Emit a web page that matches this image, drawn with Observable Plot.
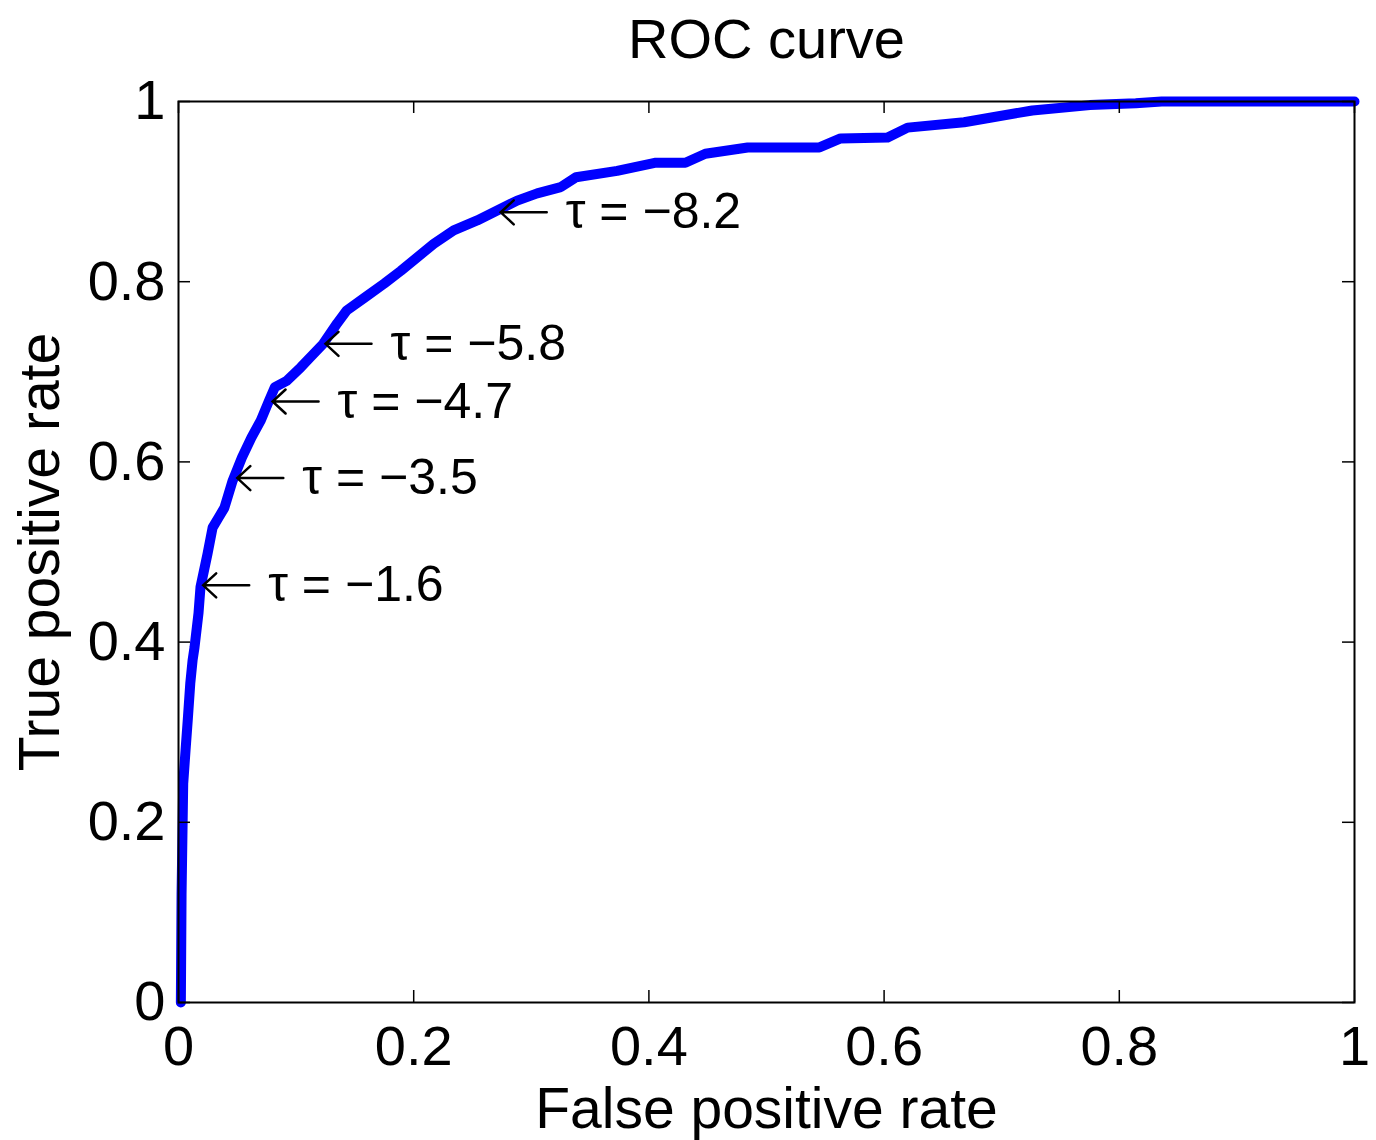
<!DOCTYPE html>
<html><head><meta charset="utf-8">
<script src="https://cdn.jsdelivr.net/npm/d3@7"></script>
<script src="https://cdn.jsdelivr.net/npm/@observablehq/plot@0.6"></script>
<style>body{margin:0;background:#fff}</style>
</head><body><div id="chart"></div>
<script>
const fpr = [0.002, 0.0026, 0.004, 0.006, 0.008, 0.010, 0.012, 0.0136, 0.017, 0.0187, 0.0247, 0.029, 0.034, 0.039, 0.046, 0.054, 0.062, 0.070, 0.077, 0.082, 0.092, 0.104, 0.112, 0.123, 0.135, 0.143, 0.158, 0.175, 0.189, 0.203, 0.217, 0.234, 0.254, 0.271, 0.288, 0.305, 0.325, 0.338, 0.373, 0.405, 0.431, 0.448, 0.484, 0.545, 0.563, 0.603, 0.620, 0.668, 0.690, 0.726, 0.775, 0.814, 0.836, 1];
const tpr = [0, 0.12, 0.243, 0.28, 0.316, 0.354, 0.38, 0.394, 0.432, 0.461, 0.498, 0.527, 0.538, 0.549, 0.579, 0.605, 0.627, 0.646, 0.668, 0.683, 0.69, 0.705, 0.716, 0.731, 0.754, 0.768, 0.782, 0.798, 0.812, 0.827, 0.842, 0.857, 0.868, 0.879, 0.890, 0.898, 0.905, 0.916, 0.923, 0.932, 0.932, 0.942, 0.949, 0.949, 0.959, 0.96, 0.971, 0.977, 0.982, 0.99, 0.996, 0.998, 1.0, 1.0];
const ticks = [0, 0.2, 0.4, 0.6, 0.8, 1];
const tauLabels = ["τ = −8.2", "τ = −5.8", "τ = −4.7", "τ = −3.5", "τ = −1.6"];
const tauX = [0.274, 0.125, 0.080, 0.050, 0.021];
const tauY = [0.877, 0.731, 0.667, 0.582, 0.463];
const title = "ROC curve";
const xLabel = "False positive rate";
const yLabel = "True positive rate";

const roc = fpr.map((x, i) => ({x, y: tpr[i]}));
const notes = tauLabels.map((t, i) => ({t, x: tauX[i], y: tauY[i]}));

const W = 1376, H = 1140, mL = 178, mR = 22, mT = 101, mB = 138;
const fw = W - mL - mR, fh = H - mT - mB, tk = 12;

// open "leftarrow" glyph-like shape for Plot.vector
const leftArrow = {
  draw(context, l) {
    context.moveTo(0, 0);
    context.lineTo(0, -l);
    context.moveTo(-12, 13 - l);
    context.lineTo(0, -l);
    context.lineTo(12, 13 - l);
  }
};

const chart = Plot.plot({
  width: W, height: H,
  marginLeft: mL, marginRight: mR, marginTop: mT, marginBottom: mB,
  style: {fontFamily: "'Liberation Sans', Arial, sans-serif", background: "white", overflow: "visible", color: "#000"},
  x: {domain: [0, 1], label: null},
  y: {domain: [0, 1], label: null},
  marks: [
    Plot.line(roc, {x: "x", y: "y", stroke: "#0000ff", strokeWidth: 10, strokeLinejoin: "round"}),
    Plot.frame({stroke: "#000", strokeWidth: 2}),
    Plot.tickX(ticks, {x: d => d, insetTop: fh - tk, stroke: "#000", strokeWidth: 1.5}),
    Plot.tickX(ticks, {x: d => d, insetBottom: fh - tk, stroke: "#000", strokeWidth: 1.5}),
    Plot.tickY(ticks, {y: d => d, insetRight: fw - tk, stroke: "#000", strokeWidth: 1.5}),
    Plot.tickY(ticks, {y: d => d, insetLeft: fw - tk, stroke: "#000", strokeWidth: 1.5}),
    Plot.axisX(ticks, {tickSize: 0, tickPadding: 23, fontSize: 56, tickFormat: d => String(d), label: null, fill: "#000"}),
    Plot.axisY(ticks, {tickSize: 0, tickPadding: 13, fontSize: 56, tickFormat: d => String(d), label: null, fill: "#000"}),
    Plot.vector(notes, {x: "x", y: "y", length: 46, rotate: -90, anchor: "end", shape: leftArrow, stroke: "#000", strokeWidth: 2.5, strokeLinejoin: "miter"}),
    Plot.text(notes, {x: "x", y: "y", text: "t", dx: 65, textAnchor: "start", lineAnchor: "middle", fontSize: 50, fill: "#000"}),
    Plot.text([title], {text: d => d, frameAnchor: "top", textAnchor: "middle", lineAnchor: "bottom", dy: -44, fontSize: 56, fill: "#000"}),
    Plot.text([xLabel], {text: d => d, frameAnchor: "bottom", textAnchor: "middle", lineAnchor: "bottom", dy: 125, fontSize: 57, fill: "#000"}),
    Plot.text([yLabel], {text: d => d, frameAnchor: "left", textAnchor: "middle", rotate: -90, lineAnchor: "bottom", dx: -120, fontSize: 57, fill: "#000"})
  ]
});
document.getElementById("chart").append(chart);
</script>
</body></html>
